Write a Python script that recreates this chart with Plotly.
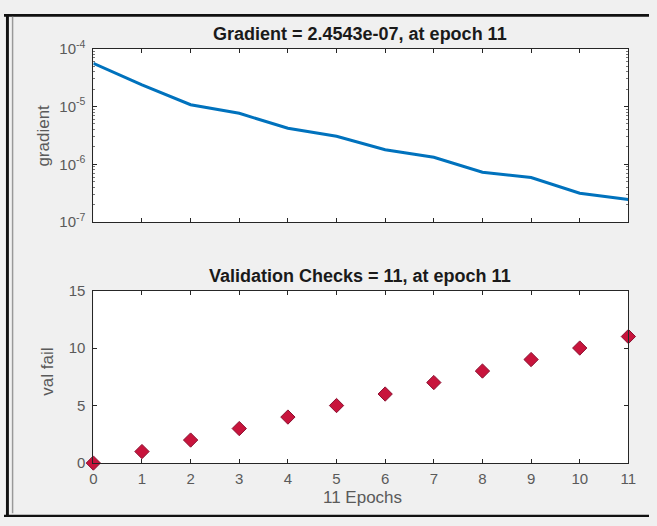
import plotly.graph_objects as go

epochs = list(range(12))
gradient = [5.55e-5, 2.35e-5, 1.07e-5, 7.6e-6, 4.2e-6, 3.05e-6, 1.78e-6, 1.32e-6, 7.3e-7, 5.9e-7, 3.16e-7, 2.4543e-7]
val_fail = [0, 1, 2, 3, 4, 5, 6, 7, 8, 9, 10, 11]
grad_tickvals = [1e-7, 1e-6, 1e-5, 1e-4]
grad_ticktext = ["10<sup>-7</sup>", "10<sup>-6</sup>", "10<sup>-5</sup>", "10<sup>-4</sup>"]
grad_minor = [k * 10.0 ** e for e in (-7, -6, -5) for k in range(2, 10)]
val_tickvals = [0, 5, 10, 15]
x_tickvals = list(range(12))

W, H = 657, 526
FONT = "Liberation Sans, Arial, sans-serif"
AX = "#262626"
TICKC = "#5a5a5a"

fig = go.Figure()
fig.add_trace(go.Scatter(x=epochs, y=gradient, mode="lines",
                         line=dict(color="#0072BD", width=3),
                         xaxis="x", yaxis="y", cliponaxis=False))
fig.add_trace(go.Scatter(x=epochs, y=val_fail, mode="markers",
                         marker=dict(symbol="diamond", size=11, color="#C8143C",
                                     line=dict(color="#8a1030", width=1)),
                         xaxis="x2", yaxis="y2", cliponaxis=False))


def px(x):
    return x / W


def py(y):
    return 1 - y / H


common_axis = dict(showline=True, linecolor=AX, linewidth=1, mirror="ticks",
                   ticks="inside", ticklen=4, tickcolor=AX, showgrid=False,
                   zeroline=False, tickfont=dict(family=FONT, size=15, color=TICKC))

fig.update_layout(
    width=W, height=H,
    margin=dict(l=0, r=0, t=0, b=0),
    paper_bgcolor="#f0f0f0", plot_bgcolor="white",
    showlegend=False,
    xaxis=dict(domain=[px(91), px(636)], anchor="y", range=[0, 11],
               tickvals=x_tickvals, showticklabels=False, **common_axis),
    yaxis=dict(domain=[py(219), py(39)], anchor="x", type="log", range=[-7, -4],
               tickvals=grad_tickvals, ticktext=grad_ticktext, ticklabelstandoff=4,
               minor=dict(tickvals=grad_minor, ticks="inside", ticklen=2,
                          tickcolor="#777", showgrid=False),
               **common_axis),
    xaxis2=dict(domain=[px(91), px(636)], anchor="y2", range=[0, 11],
                tickvals=x_tickvals, ticklabelstandoff=2, **common_axis),
    yaxis2=dict(domain=[py(469), py(290)], anchor="x2", range=[0, 15],
                tickvals=val_tickvals, ticklabelstandoff=4, **common_axis),
)

annotations = [
    dict(text="<b>Gradient = 2.4543e-07, at epoch 11</b>", x=px(363), y=py(24),
         font=dict(family=FONT, size=18, color="#1a1a1a")),
    dict(text="<b>Validation Checks = 11, at epoch 11</b>", x=px(363), y=py(275),
         font=dict(family=FONT, size=18, color="#1a1a1a")),
    dict(text="11 Epochs", x=px(365), y=py(505),
         font=dict(family=FONT, size=17, color=TICKC)),
    dict(text="gradient", x=px(40), y=py(129), textangle=-90,
         font=dict(family=FONT, size=17, color=TICKC)),
    dict(text="val fail", x=px(44), y=py(374), textangle=-90,
         font=dict(family=FONT, size=17, color=TICKC)),
]
for a in annotations:
    fig.add_annotation(xref="paper", yref="paper", showarrow=False,
                       xanchor="center", yanchor="middle", **a)

# frame around the screenshot
fig.add_shape(type="rect", xref="paper", yref="paper", x0=0, x1=1, y0=py(6), y1=py(3),
              fillcolor="#111", line=dict(width=0))
fig.add_shape(type="rect", xref="paper", yref="paper", x0=px(2), x1=px(5), y0=py(524), y1=py(3),
              fillcolor="#111", line=dict(width=0))
fig.add_shape(type="rect", xref="paper", yref="paper", x0=px(8), x1=px(9.5), y0=py(521), y1=py(6),
              fillcolor="#999", line=dict(width=0))
fig.add_shape(type="rect", xref="paper", yref="paper", x0=0, x1=1, y0=py(525), y1=py(522.5),
              fillcolor="#111", line=dict(width=0))

fig.write_html("out.html", config={"displayModeBar": False},
               post_script="document.body.style.margin='0';document.body.style.overflow='hidden';")
